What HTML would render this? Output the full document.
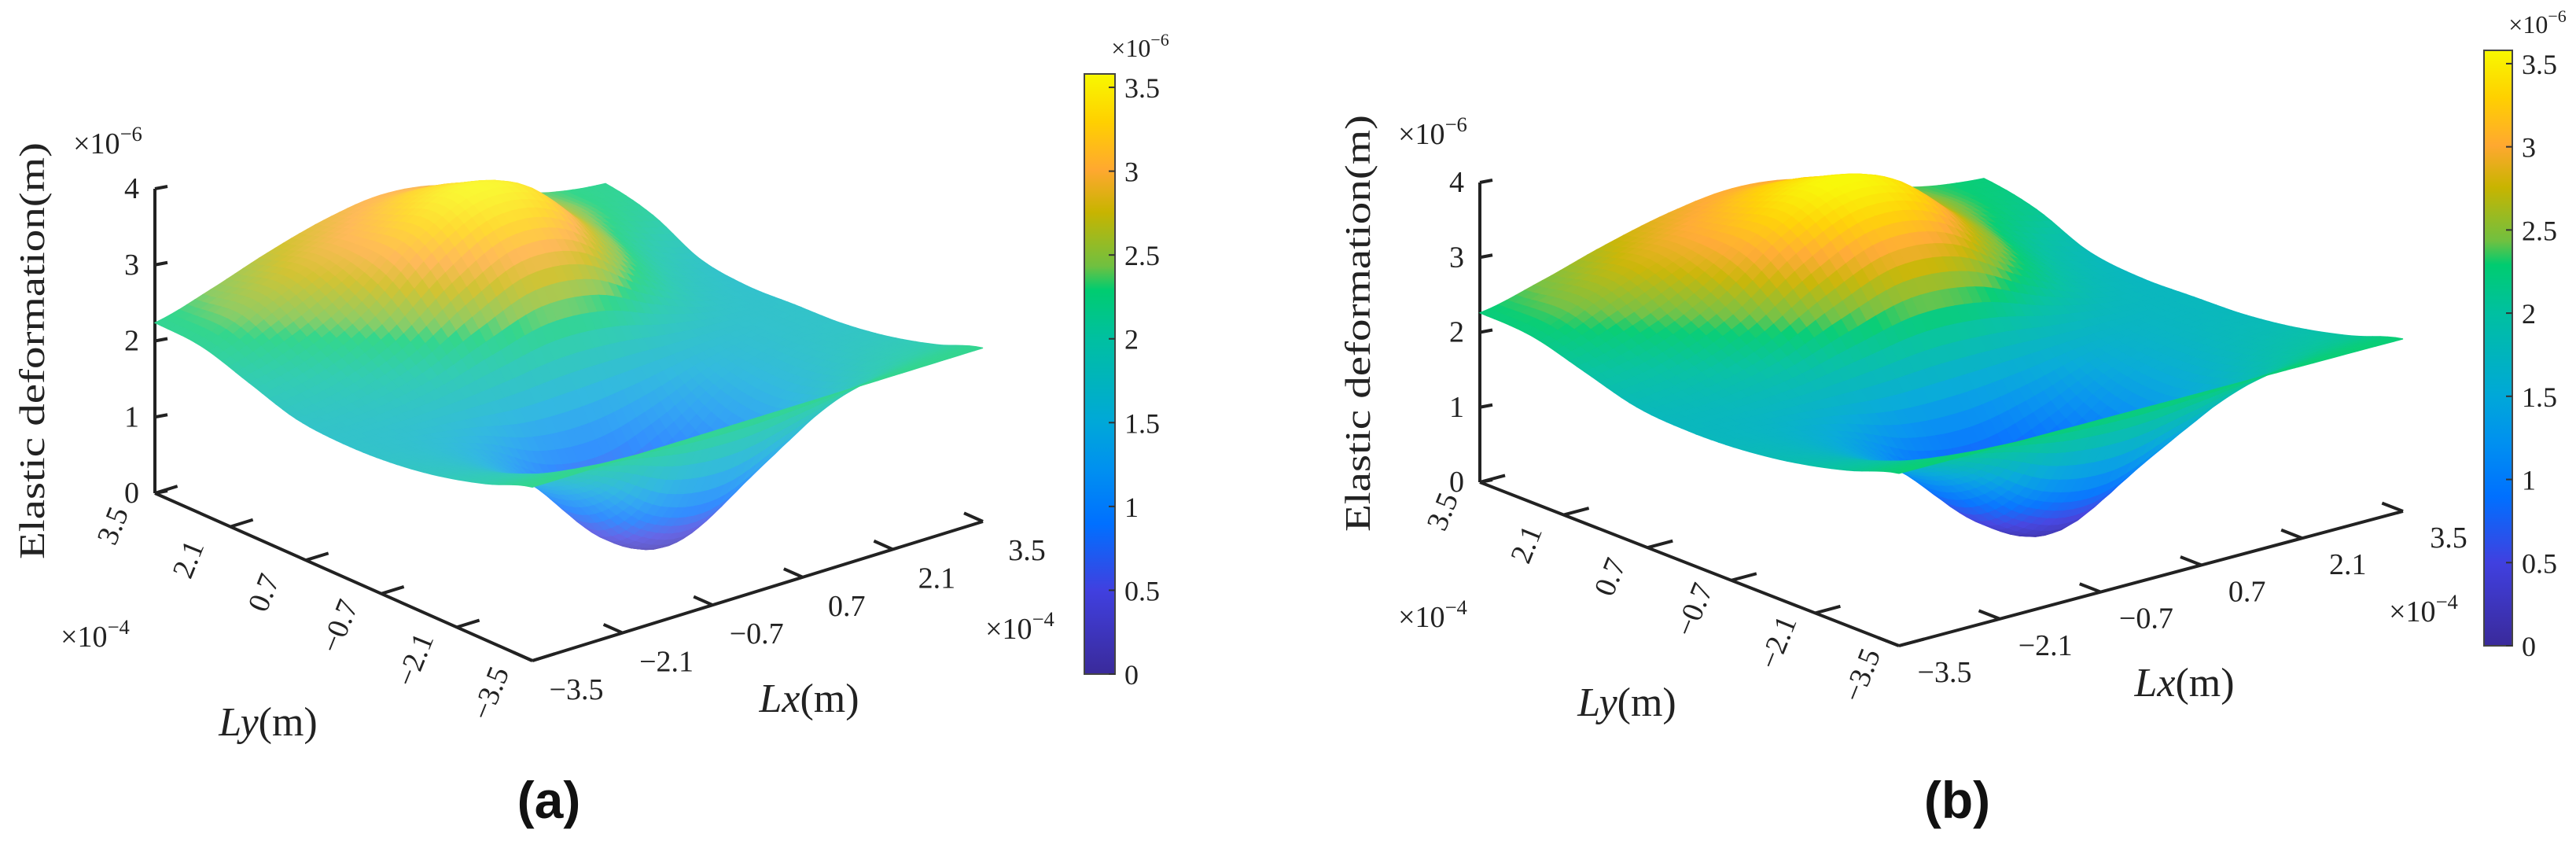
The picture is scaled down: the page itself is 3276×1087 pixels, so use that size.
<!DOCTYPE html>
<html><head><meta charset="utf-8"><style>
html,body{margin:0;padding:0;background:#fff;}
svg{display:block;font-family:"Liberation Serif",serif;}
</style></head><body>
<svg id="fig" width="3276" height="1087" viewBox="0 0 3276 1087">
<defs>
<linearGradient id="parula" x1="0" y1="1" x2="0" y2="0">
<stop offset="0" stop-color="#3a2a9a"/><stop offset="0.14" stop-color="#4040e0"/>
<stop offset="0.25" stop-color="#0070ff"/><stop offset="0.34" stop-color="#0090f0"/>
<stop offset="0.42" stop-color="#00a8d8"/><stop offset="0.56" stop-color="#00c0a0"/>
<stop offset="0.64" stop-color="#00cc70"/><stop offset="0.68" stop-color="#70c040"/>
<stop offset="0.77" stop-color="#c8b400"/><stop offset="0.84" stop-color="#ffa830"/>
<stop offset="0.92" stop-color="#ffd000"/><stop offset="1" stop-color="#f8f800"/>
</linearGradient>
</defs>
</svg>
<script>
const lxTicks = [-3.5, -2.1, -0.7, 0.7, 2.1, 3.5];
const lyTicks = [3.5, 2.1, 0.7, -0.7, -2.1, -3.5];
const zTicks = [0, 1, 2, 3, 4];
const cbTicks = [0, 0.5, 1, 1.5, 2, 2.5, 3, 3.5];
const gridLy = [-3.5, -2.625, -1.75, -0.875, 0, 0.875, 1.75, 2.625, 3.5];
const gridLx = [-3.5, -2.625, -1.75, -0.875, 0, 0.875, 1.75, 2.625, 3.5];
const surfaceA = [
[2.28,2.28,2.28,2.28,2.28,2.28,2.28,2.28,2.28],
[2.05,1.95,1.55,0.95,0.80,1.20,1.70,1.97,2.05],
[1.88,1.70,1.20,0.35,0.08,0.70,1.40,1.77,1.88],
[1.78,1.65,1.30,0.75,0.60,0.95,1.45,1.70,1.78],
[1.75,1.72,1.70,1.70,1.75,1.75,1.72,1.72,1.75],
[1.80,1.90,2.15,2.60,2.95,2.85,2.30,1.87,1.72],
[2.00,2.20,2.60,3.20,3.55,3.40,2.70,2.10,1.80],
[2.20,2.55,2.85,3.10,3.35,3.20,2.75,2.35,2.10],
[2.24,2.45,2.70,2.90,3.00,2.90,2.60,2.35,2.24]];
const surfaceB = [
[2.30,2.30,2.30,2.30,2.30,2.30,2.30,2.30,2.30],
[2.07,1.97,1.58,1.00,0.85,1.24,1.72,1.99,2.07],
[1.90,1.72,1.24,0.40,0.08,0.74,1.43,1.79,1.90],
[1.80,1.67,1.33,0.80,0.65,0.99,1.48,1.72,1.80],
[1.77,1.74,1.72,1.72,1.77,1.77,1.74,1.74,1.77],
[1.82,1.92,2.18,2.63,2.97,2.87,2.33,1.90,1.75],
[2.02,2.22,2.62,3.22,3.57,3.42,2.72,2.12,1.83],
[2.22,2.57,2.87,3.12,3.37,3.22,2.77,2.37,2.12],
[2.26,2.47,2.72,2.92,3.02,2.92,2.62,2.37,2.26]];

const NS='http://www.w3.org/2000/svg';
const svg=document.getElementById('fig');
function mk(tag,attrs,parent){const e=document.createElementNS(NS,tag);for(const k in attrs)e.setAttribute(k,attrs[k]);(parent||svg).appendChild(e);return e;}
const stops=[[0,58,42,154],[0.14,64,64,224],[0.25,0,112,255],[0.34,0,144,240],[0.42,0,168,216],[0.56,0,192,160],[0.64,0,204,112],[0.68,112,192,64],[0.77,200,180,0],[0.84,255,168,48],[0.92,255,208,0],[1,248,248,0]];
function parula(t,w){t=Math.max(0,Math.min(1,t));let i=0;while(i<stops.length-2&&t>stops[i+1][0])i++;const a=stops[i],b=stops[i+1];const f=(t-a[0])/(b[0]-a[0]);const c=[1,2,3].map(k=>a[k]+(b[k]-a[k])*f);return 'rgb('+c.map(v=>Math.round(v*(1-w)+255*w)).join(',')+')';}
function cr(p0,p1,p2,p3,t){return 0.5*((2*p1)+(-p0+p2)*t+(2*p0-5*p1+4*p2-p3)*t*t+(-p0+3*p1-3*p2+p3)*t*t*t);}
function sample(g,u,v){const n=g.length-1;const gi=(j,i)=>g[Math.max(0,Math.min(n,j))][Math.max(0,Math.min(n,i))];
 const i=Math.min(n-1,Math.floor(u)),j=Math.min(n-1,Math.floor(v));const fu=u-i,fv=v-j;const r=[];
 for(let k=-1;k<3;k++)r.push(cr(gi(j+k,i-1),gi(j+k,i),gi(j+k,i+1),gi(j+k,i+2),fu));return cr(r[0],r[1],r[2],r[3],fv);}

function panel(c){
 const g=mk('g',{});
 
 
 const P=(x,y,z)=>[c.O[0]+(x+3.5)/7*c.ex[0]+(3.5-y)/7*c.ey[0]+z*c.ez[0], c.O[1]+(x+3.5)/7*c.ex[1]+(3.5-y)/7*c.ey[1]+z*c.ez[1]];
 const ax=mk('g',{stroke:'#222','stroke-width':4,fill:'none'},g);
 
 
 let a=P(-3.5,3.5,0),b=P(-3.5,3.5,4);mk('line',{x1:a[0],y1:a[1],x2:b[0],y2:b[1]},ax);
 b=P(-3.5,-3.5,0);mk('line',{x1:a[0],y1:a[1],x2:b[0],y2:b[1]},ax);
 a=P(3.5,-3.5,0);mk('line',{x1:a[0],y1:a[1],x2:b[0],y2:b[1]},ax);
 const tg=mk('g',{'font-size':38,fill:'#222'},g);
 zTicks.forEach(t=>{const p=P(-3.5,3.5,t);mk('line',{x1:p[0],y1:p[1],x2:p[0]+16,y2:p[1]-3,stroke:'#222','stroke-width':4},g);
  const e=mk('text',{x:p[0]-20,y:p[1]+12,'text-anchor':'end'},tg);e.textContent=String(t);
  
  });
 lyTicks.forEach(t=>{const p=P(-3.5,t,0);const d=[c.ex[0]/7*0.35,c.ex[1]/7*0.35];
  mk('line',{x1:p[0],y1:p[1],x2:p[0]+d[0],y2:p[1]+d[1],stroke:'#222','stroke-width':4},g);
  const lx=p[0]+c.lyOff[0],ly=p[1]+c.lyOff[1];
  const e=mk('text',{x:lx,y:ly,'text-anchor':'middle',transform:'rotate(-68 '+lx+' '+ly+')'},tg);e.textContent=t<0?'\u2212'+Math.abs(t):String(t);
  
  });
 lxTicks.forEach(t=>{const p=P(t,-3.5,0);const d=[-c.ey[0]/7*0.35,-c.ey[1]/7*0.35];
  mk('line',{x1:p[0],y1:p[1],x2:p[0]+d[0],y2:p[1]+d[1],stroke:'#222','stroke-width':4},g);
  const e=mk('text',{x:p[0]+c.lxOff[0],y:p[1]+c.lxOff[1]+13,'text-anchor':'middle'},tg);e.textContent=t<0?'\u2212'+Math.abs(t):String(t);
  
  });
 const sg=mk('g',{},g);
 
 
 const N=56,n=gridLx.length-1,quads=[];
 const zmax=3.58;
 const pt=(i,j)=>{const u=i/N*n,v=j/N*n;const x=-3.5+7*i/N,y=-3.5+7*j/N;const z=sample(c.data,u,v);return {p:P(x,y,z),z:z,x:x,y:y};};
 const pts=[];for(let j=0;j<=N;j++){pts.push([]);for(let i=0;i<=N;i++)pts[j].push(pt(i,j));}
 for(let j=0;j<N;j++)for(let i=0;i<N;i++){const q=[pts[j][i],pts[j][i+1],pts[j+1][i+1],pts[j+1][i]];
  const xm=(q[0].x+q[1].x)/2,ym=(q[0].y+q[3].y)/2,zm=(q[0].z+q[1].z+q[2].z+q[3].z)/4;
  const depth=(xm+3.5)/7*c.ex[1]+(3.5-ym)/7*c.ey[1];quads.push({q:q,zm:zm,d:depth});}
 quads.sort((A,B)=>A.d-B.d);
 quads.forEach(Q=>{const col=parula(Q.zm/zmax,c.wash);
  mk('polygon',{points:Q.q.map(o=>o.p[0].toFixed(1)+','+o.p[1].toFixed(1)).join(' '),fill:col,stroke:col,'stroke-width':1.2},sg);});
 const zl=mk('text',{x:c.zLab[0],y:c.zLab[1],'font-size':46,'text-anchor':'middle',fill:'#222',transform:'rotate(-90 '+c.zLab[0]+' '+c.zLab[1]+')',textLength:530,lengthAdjust:'spacingAndGlyphs'},g);
 zl.textContent='Elastic deformation(m)';
 
 
 const ex=(pos,txt,nm,fs)=>{const e=mk('text',{x:pos[0],y:pos[1],'font-size':fs,fill:'#222','text-anchor':'middle'},g);
  e.innerHTML='\u00d710<tspan dy="-16" font-size="'+(fs*0.7)+'">\u2212'+txt+'</tspan>';
  
  };
 ex(c.zExp,'6','z-exponent',38);ex(c.lyExp,'4','ly-exponent',38);ex(c.lxExp,'4','lx-exponent',38);
 const t1=mk('text',{x:c.lyLab[0],y:c.lyLab[1],'font-size':52,'text-anchor':'middle',fill:'#222'},g);
 t1.innerHTML='<tspan font-style="italic">Ly</tspan>(m)';
 
 
 const t2=mk('text',{x:c.lxLab[0],y:c.lxLab[1],'font-size':52,'text-anchor':'middle',fill:'#222'},g);
 t2.innerHTML='<tspan font-style="italic">Lx</tspan>(m)';
 
 
 const cb=c.cb;const cbg=mk('g',{},g);
 
 
 mk('rect',{x:cb.x,y:cb.top,width:cb.w,height:cb.bot-cb.top,fill:'url(#parula)',stroke:'#444','stroke-width':2},cbg);
 const sc=(cb.bot-cb.top)/3.58;
 cbTicks.forEach(t=>{const y=cb.bot-t*sc;mk('line',{x1:cb.x+cb.w-8,y1:y,x2:cb.x+cb.w,y2:y,stroke:'#333','stroke-width':2},cbg);
  const e=mk('text',{x:cb.x+cb.w+12,y:y+13,'font-size':36,fill:'#222'},cbg);e.textContent=String(t);
  
  });
 const ce=mk('text',{x:cb.x+cb.w+32,y:cb.top-22,'font-size':32,fill:'#222','text-anchor':'middle'},cbg);
 ce.innerHTML='\u00d710<tspan dy="-14" font-size="22">\u22126</tspan>';
 
 
 const pl=mk('text',{x:c.pLab[0],y:c.pLab[1],'font-size':66,'font-weight':'bold','text-anchor':'middle',fill:'#111','font-family':'Liberation Sans, sans-serif'},g);
 pl.textContent=c.label;
 
 
}
panel({name:'panel-a',O:[197,627],ex:[573,-177],ey:[480,213],ez:[0,-96.75],data:surfaceA,wash:0.2,
 lyOff:[-42,46],lxOff:[56,36],zLab:[56,446],zExp:[137,195],lyExp:[121,822],lxExp:[1297,812],
 lyLab:[341,935],lxLab:[1029,905],cb:{x:1379,w:39,top:94,bot:857},pLab:[698,1040],label:'(a)'});
panel({name:'panel-b',O:[1882,613],ex:[641,-171],ey:[533,208],ez:[0,-95.25],data:surfaceB,wash:0.04,
 lyOff:[-36,42],lxOff:[58,33],zLab:[1742,411],zExp:[1822,183],lyExp:[1822,797],lxExp:[3082,790],
 lyLab:[2069,910],lxLab:[2778,885],cb:{x:3159,w:36,top:64,bot:821},pLab:[2489,1040],label:'(b)'});
</script>
</body></html>
